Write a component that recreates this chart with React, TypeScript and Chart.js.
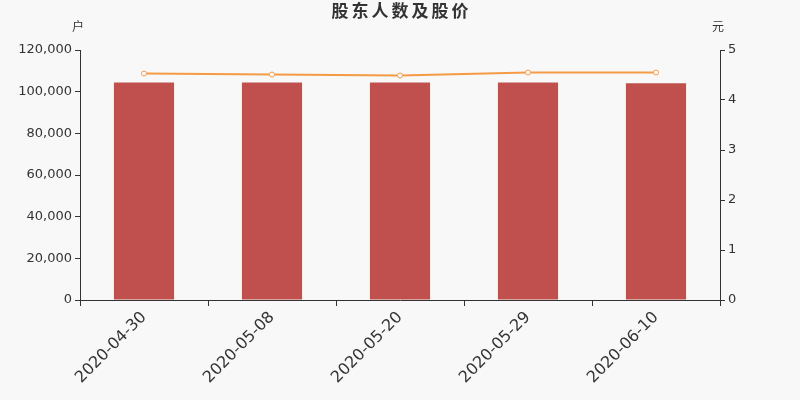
import React, { useEffect, useRef } from "react";
import { Chart, registerables } from "chart.js";

Chart.register(...registerables);

const title = "股东人数及股价";
const categories = ["2020-04-30", "2020-05-08", "2020-05-20", "2020-05-29", "2020-06-10"];
const holders = [104400, 104450, 104380, 104350, 104000];
const prices = [4.53, 4.51, 4.49, 4.55, 4.55];
const leftUnit = "户";
const rightUnit = "元";

const FONT = "'DejaVu Sans', 'Noto Sans CJK SC', sans-serif";

export default function App() {
  const ref = useRef<HTMLCanvasElement>(null);
  useEffect(() => {
    document.body.style.margin = "0";
    document.body.style.background = "#f8f8f8";
    const canvas = ref.current!;
    const textPlugin = {
      id: "texts",
      beforeDraw(chart: any) {
        const ctx = chart.ctx;
        ctx.save();
        ctx.fillStyle = "#f8f8f8";
        ctx.fillRect(0, 0, chart.width, chart.height);
        ctx.restore();
      },
      afterDraw(chart: any) {
        const ctx = chart.ctx;
        const ca = chart.chartArea;
        ctx.save();
        ctx.fillStyle = "#333";
        ctx.textAlign = "center";
        ctx.textBaseline = "middle";
        ctx.font = `bold 17px ${FONT}`;
        try { (ctx as any).letterSpacing = "3px"; } catch (e) {}
        ctx.fillText(title, chart.width / 2 + 1.5, 13);
        try { (ctx as any).letterSpacing = "0px"; } catch (e) {}
        ctx.font = `12px ${FONT}`;
        ctx.fillText(leftUnit, ca.left - 2, 28);
        ctx.fillText(rightUnit, ca.right - 2, 28);
        ctx.restore();
      },
    };
    const chart = new Chart(canvas, {
      data: {
        labels: categories,
        datasets: [
          {
            type: "line",
            data: prices,
            yAxisID: "y1",
            borderColor: "#f59a45",
            borderWidth: 2,
            pointRadius: 2.5,
            pointBackgroundColor: "#ffffff",
            pointBorderColor: "#f59a45",
            pointBorderWidth: 1,
            tension: 0,
            order: 0,
          },
          {
            type: "bar",
            data: holders,
            yAxisID: "y",
            backgroundColor: "#c0504d",
            categoryPercentage: 1,
            barPercentage: 0.47,
            order: 1,
          },
        ],
      },
      options: {
        animation: false,
        responsive: false,
        maintainAspectRatio: false,
        layout: { padding: { top: 50, left: 0, right: 0, bottom: 0 } },
        plugins: { legend: { display: false }, tooltip: { enabled: false }, title: { display: false } },
        scales: {
          x: {
            type: "category",
            offset: true,
            grid: { display: true, drawOnChartArea: false, drawTicks: true, tickLength: 6, color: "#333", offset: true },
            border: { display: true, color: "#333", width: 1 },
            ticks: {
              color: "#333",
              font: { size: 16, family: FONT },
              maxRotation: 45,
              minRotation: 45,
              autoSkip: false,
              padding: 2,
            },
            afterFit(scale: any) { scale.height = 100; },
          },
          y: {
            position: "left",
            min: 0,
            max: 120000,
            grid: { display: true, drawOnChartArea: false, drawTicks: true, tickLength: 5, color: "#333" },
            border: { display: true, color: "#333", width: 1 },
            ticks: {
              stepSize: 20000,
              color: "#333",
              font: { size: 13, family: FONT },
              padding: 3,
              callback: (v: any) => Number(v).toLocaleString("en-US"),
            },
            afterFit(scale: any) { scale.width = 80; },
          },
          y1: {
            position: "right",
            min: 0,
            max: 5,
            grid: { display: true, drawOnChartArea: false, drawTicks: true, tickLength: 5, color: "#333" },
            border: { display: true, color: "#333", width: 1 },
            ticks: { stepSize: 1, color: "#333", font: { size: 13, family: FONT }, padding: 3 },
            afterFit(scale: any) { scale.width = 80; },
          },
        },
      },
      plugins: [textPlugin],
    } as any);
    return () => chart.destroy();
  }, []);
  return (
    <div style={{ width: 800, height: 400, position: "relative" }}>
      <canvas ref={ref} width={800} height={400} style={{ width: 800, height: 400, display: "block" }} />
    </div>
  );
}
